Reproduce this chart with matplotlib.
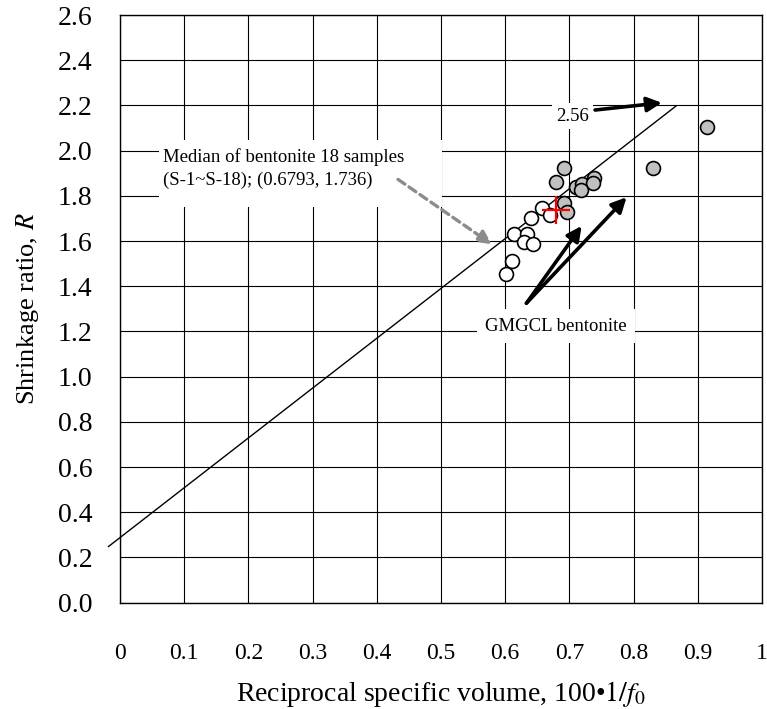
import matplotlib
matplotlib.use("Agg")
import matplotlib.pyplot as plt
from matplotlib.patches import Rectangle

plt.rcParams["font.family"] = ["Liberation Serif", "DejaVu Serif"]
plt.rcParams["mathtext.fontset"] = "stix"

# GMGCL bentonite (grey markers)
gmgcl_x = [0.691, 0.679, 0.710, 0.720, 0.738, 0.736, 0.718, 0.691, 0.697, 0.830, 0.915]
gmgcl_y = [1.925, 1.863, 1.841, 1.851, 1.880, 1.858, 1.826, 1.770, 1.727, 1.925, 2.106]

# bentonite samples S-1 ~ S-18 (open markers)
bent_x = [0.657, 0.670, 0.640, 0.613, 0.634, 0.629, 0.643, 0.610, 0.601]
bent_y = [1.748, 1.715, 1.703, 1.631, 1.631, 1.597, 1.586, 1.512, 1.454]

median_x, median_y = 0.6793, 1.736

# straight line drawn on the chart
fit_intercept = 0.288
fit_slope = 2.205
fit_x = [-0.018, 0.866]

xticks = [0, 0.1, 0.2, 0.3, 0.4, 0.5, 0.6, 0.7, 0.8, 0.9, 1]
xticklabels = ["0", "0.1", "0.2", "0.3", "0.4", "0.5", "0.6", "0.7", "0.8", "0.9", "1"]
yticks = [round(0.2 * i, 1) for i in range(14)]
yticklabels = ["%.1f" % v for v in yticks]

fig = plt.figure(figsize=(7.67, 7.09), dpi=100)
ax = fig.add_axes([0.1565, 0.150, 0.837, 0.8287])

ax.set_xlim(0, 1)
ax.set_ylim(0, 2.6)
ax.set_xticks(xticks)
ax.set_xticklabels(xticklabels)
ax.set_yticks(yticks)
ax.set_yticklabels(yticklabels)
ax.tick_params(length=0)
ax.tick_params(axis="x", pad=29, labelsize=17)
ax.tick_params(axis="y", pad=20, labelsize=20)
ax.grid(True, color="black", lw=0.8)
ax.set_axisbelow(True)
for s in ax.spines.values():
    s.set_linewidth(1.0)

fit_y = [fit_intercept + fit_slope * v for v in fit_x]
ax.plot(fit_x, fit_y, color="black", lw=1.0, clip_on=False, zorder=3)

ax.plot(bent_x, bent_y, "o", ms=10, mfc="white", mec="black", mew=1.2, zorder=4)
ax.plot(gmgcl_x, gmgcl_y, "o", ms=10, mfc="#c0c0c0", mec="black", mew=1.2, zorder=4)
ax.plot(median_x, median_y, "+", ms=20, color="red", mew=1.6, zorder=6)

# white boxes behind the notes
ax.add_patch(Rectangle((0.061, 1.751), 0.441, 0.296, fc="white", ec="none", zorder=2))
ax.text(0.067, 1.921, "Median of bentonite 18 samples\n(S-1~S-18); (0.6793, 1.736)",
        ha="left", va="center", fontsize=13.5, linespacing=1.45, zorder=7)
ax.annotate("", xy=(0.579, 1.586), xytext=(0.433, 1.873),
            arrowprops=dict(arrowstyle="-|>", color="#8c8c8c", lw=2.4, ls=(0, (2.5, 1.5)),
                            mutation_scale=20, shrinkA=0, shrinkB=0), zorder=7)

ax.text(0.705, 2.153, "2.56", ha="center", va="center", fontsize=13.5, zorder=7,
        bbox=dict(fc="white", ec="none", pad=3))
ax.annotate("", xy=(0.844, 2.212), xytext=(0.740, 2.180),
            arrowprops=dict(arrowstyle="-|>", color="black", lw=2.6,
                            mutation_scale=22, shrinkA=0, shrinkB=0), zorder=7)

ax.text(0.679, 1.224, "GMGCL bentonite", ha="center", va="center", fontsize=13.5, zorder=7,
        bbox=dict(fc="white", ec="none", pad=6))
for hx, hy in [(0.719, 1.667), (0.789, 1.794)]:
    ax.annotate("", xy=(hx, hy), xytext=(0.633, 1.325),
                arrowprops=dict(arrowstyle="-|>", color="black", lw=2.6,
                                mutation_scale=22, shrinkA=0, shrinkB=0), zorder=7)

ax.set_xlabel("Reciprocal specific volume, 100\u2022$1/f_0$", fontsize=20, labelpad=11)
ax.set_ylabel("Shrinkage ratio, $R$", fontsize=19, labelpad=12)

fig.savefig("out.png", dpi=100)
